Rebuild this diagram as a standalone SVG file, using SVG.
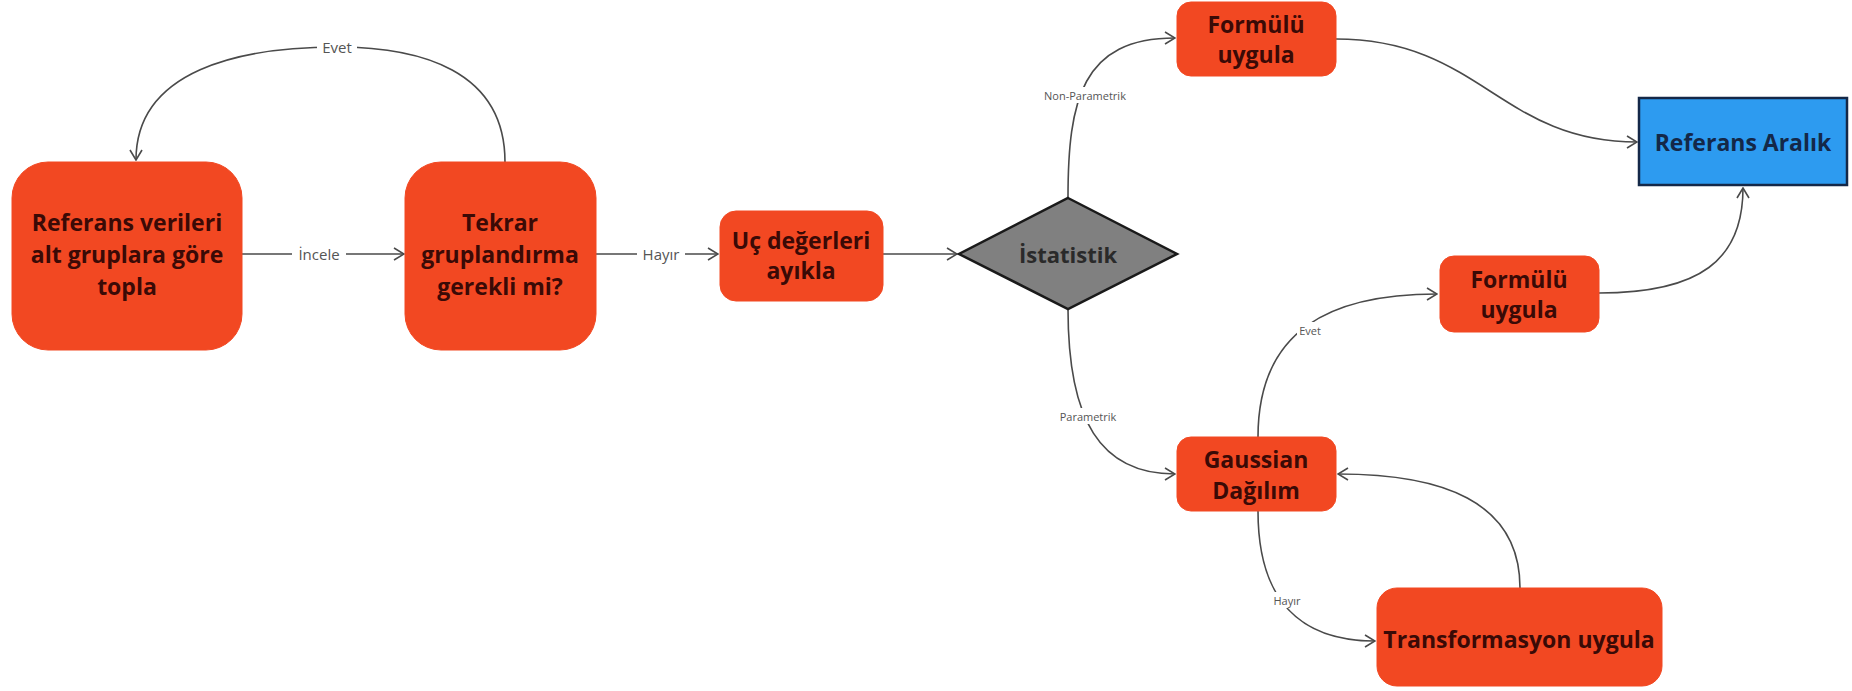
<svg xmlns="http://www.w3.org/2000/svg" width="1852" height="691" viewBox="0 0 1852 691">
<style>
.box{fill:#F24822;stroke:#F24822;stroke-width:1}
.t{font-family:"Open Sans","Liberation Sans",sans-serif;font-weight:bold;fill:#3a0a06;text-anchor:middle;dominant-baseline:central}
.big{font-size:23px}
.e{fill:none;stroke:#4a4a4a;stroke-width:1.6;marker-end:url(#arr)}
.lb{font-family:"Open Sans","Liberation Sans",sans-serif;fill:#555;text-anchor:middle;dominant-baseline:central}
.bg{fill:#ffffff}
</style>
<defs>
<marker id="arr" viewBox="0 0 12 14" refX="11" refY="7" markerWidth="12" markerHeight="14" markerUnits="userSpaceOnUse" orient="auto">
<path d="M1,1 L11,7 L1,13" fill="none" stroke="#4a4a4a" stroke-width="1.6"/>
</marker>
</defs>
<rect width="1852" height="691" fill="#ffffff"/>
<g id="connectors">
<path class="e" d="M242,254 L404,254"/>
<path class="e" d="M505,162 C505,70 420,47 337,47 C240,47 136,70 136,160"/>
<path class="e" d="M596,254 L718,254"/>
<path class="e" d="M883,254 L957,254"/>
<path class="e" d="M1068,198 C1068,100 1082,38 1175,38"/>
<path class="e" d="M1336,39 C1480,39 1500,142 1637,142"/>
<path class="e" d="M1599,293 C1700,293 1743,260 1743,188"/>
<path class="e" d="M1068,309 C1068,420 1100,474 1175,474"/>
<path class="e" d="M1258,437 C1258,330 1330,294 1437,294"/>
<path class="e" d="M1258,511 C1258,600 1300,641 1375,641"/>
<path class="e" d="M1520,588 C1520,500 1440,474 1338,474"/>
<rect class="bg" x="317" y="37" width="40" height="20"/>
<text class="lb" x="337" y="47" font-size="15">Evet</text>
<rect class="bg" x="292" y="244" width="54" height="20"/>
<text class="lb" x="319" y="254" font-size="15">İncele</text>
<rect class="bg" x="637" y="244" width="48" height="20"/>
<text class="lb" x="661" y="254" font-size="15">Hayır</text>
<rect class="bg" x="1040" y="87" width="90" height="16"/>
<text class="lb" x="1085" y="95" font-size="11">Non-Parametrik</text>
<rect class="bg" x="1060" y="408" width="56" height="16"/>
<text class="lb" x="1088" y="416" font-size="11">Parametrik</text>
<rect class="bg" x="1297" y="322" width="26" height="16"/>
<text class="lb" x="1310" y="330" font-size="11">Evet</text>
<rect class="bg" x="1271" y="592" width="32" height="16"/>
<text class="lb" x="1287" y="600" font-size="11">Hayır</text>
</g>
<g id="n-referans-verileri">
<rect class="box" x="12" y="162" width="230" height="188" rx="36"/>
<text class="t big" x="127" y="222">Referans verileri</text>
<text class="t big" x="127" y="254">alt gruplara göre</text>
<text class="t big" x="127" y="286">topla</text>
</g>
<g id="n-tekrar">
<rect class="box" x="405" y="162" width="191" height="188" rx="36"/>
<text class="t big" x="500" y="222">Tekrar</text>
<text class="t big" x="500" y="254">gruplandırma</text>
<text class="t big" x="500" y="286">gerekli mi?</text>
</g>
<g id="n-uc-degerleri">
<rect class="box" x="720" y="211" width="163" height="90" rx="16"/>
<text class="t big" x="801" y="240">Uç değerleri</text>
<text class="t big" x="801" y="270">ayıkla</text>
</g>
<g id="n-istatistik">
<polygon points="1068,198 1177,254 1068,309 959,254" fill="#808080" stroke="#1a1a1a" stroke-width="2.5" stroke-linejoin="miter"/>
<text class="t" x="1068" y="254" font-size="22" style="fill:#2a2a2a">İstatistik</text>
</g>
<g id="n-formul-1">
<rect class="box" x="1177" y="2" width="159" height="74" rx="14"/>
<text class="t big" x="1256" y="24">Formülü</text>
<text class="t big" x="1256" y="54">uygula</text>
</g>
<g id="n-referans-aralik">
<rect x="1639" y="98" width="208" height="87" fill="#2d9bf0" stroke="#142848" stroke-width="2.5"/>
<text class="t big" x="1743" y="142" style="fill:#142848">Referans Aralık</text>
</g>
<g id="n-formul-2">
<rect class="box" x="1440" y="256" width="159" height="76" rx="14"/>
<text class="t big" x="1519" y="279">Formülü</text>
<text class="t big" x="1519" y="309">uygula</text>
</g>
<g id="n-gaussian">
<rect class="box" x="1177" y="437" width="159" height="74" rx="14"/>
<text class="t big" x="1256" y="459">Gaussian</text>
<text class="t big" x="1256" y="490">Dağılım</text>
</g>
<g id="n-transformasyon">
<rect class="box" x="1377" y="588" width="285" height="98" rx="20"/>
<text class="t big" x="1519" y="639">Transformasyon uygula</text>
</g>
</svg>
